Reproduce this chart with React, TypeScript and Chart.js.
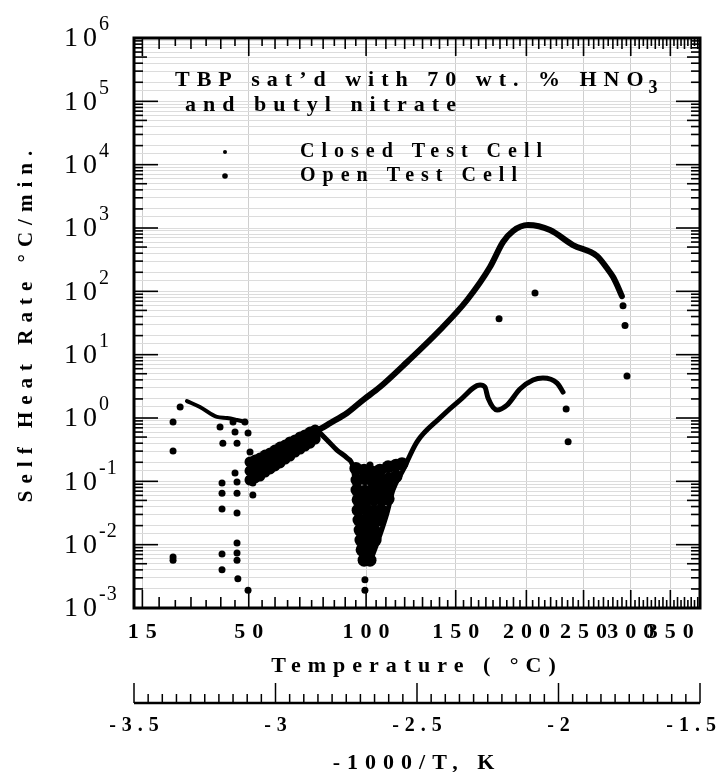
import { useEffect, useRef } from 'react';
import { Chart, registerables } from 'chart.js';

Chart.register(...registerables);

const FONT = '"Liberation Serif", "Times New Roman", Times, serif';

// ---- axis tick labels ----
const tempLabels = [15, 50, 100, 150, 200, 250, 300, 350]; // °C (top & bottom of plot)
const invTLabels = ['-3.5', '-3', '-2.5', '-2', '-1.5'];    // lower axis, -1000/T
const invTValues = [-3.5, -3, -2.5, -2, -1.5];
const yExponents = [-3, -2, -1, 0, 1, 2, 3, 4, 5, 6];

// ---- data (x = -1000/T [K], y = self heat rate °C/min) ----
// Closed test cell: main curve
const closedCurveX = [-3.090, -3.044, -2.984, -2.924, -2.878, -2.843, -2.807, -2.747, -2.691, -2.631, -2.535, -2.419, -2.323, -2.242, -2.196, -2.161, -2.108, -2.030, -1.949, -1.864, -1.829, -1.807, -1.790, -1.776];
const closedCurveY = [0.14, 0.19, 0.32, 0.48, 0.62, 0.67, 0.83, 1.2, 1.92, 3.08, 7.66, 24.5, 73, 242, 601, 896, 1114, 929, 538, 361, 233, 168, 117, 84];
// Closed test cell: dense band at the start of the curve
const closedCloudX = [
  -3.090, -3.090, -3.090, -3.072, -3.072, -3.072, -3.055, -3.055, -3.055, -3.037, -3.037, -3.037,
  -3.019, -3.019, -3.019, -3.002, -3.002, -3.002, -2.984, -2.984, -2.984, -2.966, -2.966, -2.966,
  -2.949, -2.949, -2.949, -2.931, -2.931, -2.931, -2.913, -2.913, -2.913, -2.896, -2.896, -2.896,
  -2.878, -2.878, -2.878, -2.860, -2.860, -2.860,
];
const closedCloudY = [
  0.202, 0.146, 0.105, 0.217, 0.157, 0.113, 0.233, 0.168, 0.121, 0.26, 0.188, 0.140,
  0.28, 0.209, 0.157, 0.312, 0.233, 0.175, 0.348, 0.26, 0.195, 0.374, 0.29, 0.225,
  0.418, 0.324, 0.251, 0.45, 0.36, 0.29, 0.501, 0.40, 0.324, 0.539, 0.45, 0.36,
  0.60, 0.501, 0.40, 0.645, 0.559, 0.466,
];
// Closed test cell: isolated points
const closedDotsX = [-1.772, -1.765, -1.758, -2.083, -2.210];
const closedDotsY = [59, 29, 4.6, 94, 37];

// Open test cell: early descending run
const openStartX = [-3.313, -3.267, -3.207, -3.171, -3.136, -3.108];
const openStartY = [1.85, 1.49, 1.04, 1.0, 0.93, 0.865];
// Open test cell: falling branch
const openFallX = [-2.853, -2.818, -2.783, -2.747, -2.726, -2.716, -2.708, -2.701, -2.694];
const openFallY = [0.645, 0.45, 0.312, 0.233, 0.168, 0.073, 0.0245, 0.0099, 0.0053];
// Open test cell: recovering curve
const openRiseX = [-2.666, -2.631, -2.606, -2.585, -2.549, -2.500, -2.419, -2.348, -2.277, -2.260, -2.249, -2.217, -2.182, -2.136, -2.090, -2.055, -2.005, -1.984];
const openRiseY = [0.0053, 0.0142, 0.0316, 0.073, 0.151, 0.42, 1.0, 1.92, 3.32, 3.08, 2.07, 1.34, 1.60, 2.87, 3.98, 4.28, 3.56, 2.57];
// Open test cell: dense cluster in the dip
const openCloudX = [
  -2.716, -2.687, -2.659, -2.631, -2.602, -2.574, -2.553,
  -2.712, -2.684, -2.655, -2.627, -2.599, -2.574,
  -2.712, -2.684, -2.655, -2.627, -2.599,
  -2.708, -2.680, -2.652, -2.624, -2.602,
  -2.708, -2.680, -2.652, -2.627,
  -2.705, -2.680, -2.655, -2.634,
  -2.701, -2.677, -2.652,
  -2.698, -2.673, -2.648,
  -2.694, -2.670,
  -2.687, -2.666,
];
const openCloudY = [
  0.16, 0.15, 0.14, 0.15, 0.17, 0.18, 0.19,
  0.105, 0.11, 0.10, 0.105, 0.11, 0.12,
  0.073, 0.07, 0.075, 0.073, 0.078,
  0.051, 0.05, 0.052, 0.051, 0.053,
  0.035, 0.036, 0.034, 0.035,
  0.0245, 0.024, 0.025, 0.0245,
  0.017, 0.0165, 0.017,
  0.0118, 0.012, 0.0118,
  0.0083, 0.0083,
  0.0057, 0.0057,
];
// Open test cell: scattered points
const openDotsX = [-3.362, -3.337, -3.362, -3.362, -3.362, -3.196, -3.186, -3.189, -3.189, -3.189, -3.189, -3.189, -3.150, -3.143, -3.136, -3.143, -3.136, -3.136, -3.136, -3.136, -3.136, -3.136, -3.133, -3.108, -3.097, -3.090, -3.080, -3.080, -3.097, -2.666, -2.684, -2.684, -1.973, -1.966];
const openDotsY = [0.865, 1.49, 0.30, 0.0064, 0.0057, 0.72, 0.40, 0.094, 0.065, 0.0365, 0.0071, 0.0040, 0.865, 0.60, 0.40, 0.135, 0.0975, 0.065, 0.0316, 0.0106, 0.0074, 0.0057, 0.0029, 0.865, 0.58, 0.29, 0.094, 0.061, 0.0019, 0.181, 0.0028, 0.0019, 1.39, 0.42];

const toX = (tC: number) => -1000 / (tC + 273.15);
const pts = (xs: number[], ys: number[]) => xs.map((x, i) => ({ x, y: ys[i] }));

const spacingPlugin = {
  id: 'spacing',
  beforeLayout(chart: any) { chart.ctx.letterSpacing = '7px'; },
  beforeDraw(chart: any) { chart.ctx.letterSpacing = '7px'; },
};

const decorPlugin = {
  id: 'decor',
  afterDraw(chart: any) {
    const { ctx, chartArea: a, scales } = chart;
    const xs = scales.x, ys = scales.y, x2 = scales.x2;
    const line = (x1: number, y1: number, xb: number, yb: number) => {
      ctx.beginPath(); ctx.moveTo(x1, y1); ctx.lineTo(xb, yb); ctx.stroke();
    };
    ctx.save();
    ctx.strokeStyle = '#000';
    ctx.fillStyle = '#000';
    ctx.letterSpacing = '0px';

    // inward ticks on left/right (log)
    ctx.lineWidth = 1.6;
    for (let e = -3; e <= 5; e++) {
      for (let m = 1; m <= 9; m++) {
        const py = ys.getPixelForValue(m * Math.pow(10, e));
        const len = m === 1 ? 24 : (m === 5 ? 13 : 9);
        line(a.left, py, a.left + len, py);
        line(a.right, py, a.right - len, py);
      }
    }
    // inward ticks on top/bottom (temperature every 5 °C)
    for (let t = 15; t <= 390; t += 5) {
      const px = xs.getPixelForValue(toX(t));
      if (px > a.right) break;
      const len = tempLabels.includes(t) ? 18 : (t % 10 === 0 ? 11 : 8);
      line(px, a.top, px, a.top + len);
      line(px, a.bottom, px, a.bottom - len);
    }
    // frame
    ctx.lineWidth = 3;
    ctx.strokeRect(a.left, a.top, a.right - a.left, a.bottom - a.top);

    // y tick labels 10^n
    ctx.textBaseline = 'middle';
    yExponents.forEach((e) => {
      const py = ys.getPixelForValue(Math.pow(10, e));
      ctx.font = `28px ${FONT}`;
      ctx.letterSpacing = '5px';
      ctx.textAlign = 'right';
      ctx.fillText('10', 102, py + 1);
      ctx.font = `20px ${FONT}`;
      ctx.letterSpacing = '1px';
      ctx.textAlign = 'left';
      ctx.fillText(String(e), 99, py - 13);
    });

    // lower -1000/T axis
    const ly = x2.top + 20;
    ctx.lineWidth = 2.5;
    line(x2.left, ly, x2.right, ly);
    ctx.lineWidth = 1.5;
    for (let i = 0; i <= 40; i++) {
      const px = x2.getPixelForValue(-3.5 + i * 0.05);
      const len = i % 10 === 0 ? 20 : 9;
      line(px, ly, px, ly - len);
    }
    ctx.font = `bold 20px ${FONT}`;
    ctx.letterSpacing = '6px';
    ctx.textAlign = 'left';
    invTValues.forEach((v, i) => {
      const txt = invTLabels[i];
      const w = ctx.measureText(txt).width - 6;
      let left = x2.getPixelForValue(v) - w / 2;
      left = Math.max(104, Math.min(left, 716 - w));
      ctx.fillText(txt, left, ly + 23);
    });

    // annotation
    ctx.font = `bold 22px ${FONT}`;
    ctx.letterSpacing = '7px';
    const t1 = 'TBP sat’d with 70 wt. % HNO';
    ctx.fillText(t1, 175, 80);
    const w1 = ctx.measureText(t1).width;
    ctx.font = `bold 18px ${FONT}`;
    ctx.fillText('3', 175 + w1 - 2, 88);
    ctx.font = `bold 22px ${FONT}`;
    ctx.fillText('and butyl nitrate', 185, 105);

    // legend
    ctx.beginPath(); ctx.arc(225, 152, 2, 0, Math.PI * 2); ctx.fill();
    ctx.beginPath(); ctx.arc(225, 176, 2.8, 0, Math.PI * 2); ctx.fill();
    ctx.font = `bold 20px ${FONT}`;
    ctx.fillText('Closed Test Cell', 300, 152);
    ctx.fillText('Open Test Cell', 300, 176);
    ctx.restore();
  },
};

export default function App() {
  const ref = useRef<HTMLCanvasElement | null>(null);
  useEffect(() => {
    if (!ref.current) return;
    const black = '#000';
    const lineDs = (label: string, data: any[], bw: number) => ({
      label, data, showLine: true, borderColor: black, backgroundColor: black,
      borderWidth: bw, pointRadius: 0, cubicInterpolationMode: 'monotone', borderCapStyle: 'round', borderJoinStyle: 'round',
    });
    const dotDs = (label: string, data: any[], r: number) => ({
      label, data, showLine: false, borderColor: black, backgroundColor: black,
      borderWidth: 0, pointRadius: r, pointHoverRadius: r,
    });
    const titleFont = { family: FONT, size: 22, weight: 'bold' as const };
    const chart = new Chart(ref.current, {
      type: 'scatter',
      data: {
        datasets: [
          lineDs('Closed Test Cell', pts(closedCurveX, closedCurveY), 6),
          dotDs('Closed cloud', pts(closedCloudX, closedCloudY), 5.5),
          dotDs('Closed points', pts(closedDotsX, closedDotsY), 3.5),
          lineDs('Open Test Cell', pts(openStartX, openStartY), 4),
          lineDs('Open fall', pts(openFallX, openFallY), 5),
          lineDs('Open rise', pts(openRiseX, openRiseY), 5),
          dotDs('Open cloud', pts(openCloudX, openCloudY), 6.5),
          dotDs('Open points', pts(openDotsX, openDotsY), 3.5),
        ] as any,
      },
      options: {
        animation: false,
        responsive: false,
        maintainAspectRatio: false,
        devicePixelRatio: 1,
        events: [],
        layout: { padding: { left: 0, right: 17, top: 38, bottom: 0 } },
        plugins: { legend: { display: false }, tooltip: { enabled: false }, title: { display: false } },
        scales: {
          x: {
            type: 'linear', position: 'bottom', min: -3.5, max: -1.5, weight: 0,
            afterBuildTicks: (s: any) => { s.ticks = tempLabels.map((t) => ({ value: toX(t) })); },
            afterFit: (s: any) => { s.height = 75; },
            ticks: {
              autoSkip: false, maxRotation: 0, minRotation: 0, padding: 11, labelOffset: 3.5, color: black,
              font: titleFont,
              callback: (_v: any, i: number) => String(tempLabels[i]),
            },
            grid: { color: '#cfcfcf', drawTicks: false, lineWidth: 1 },
            border: { display: false },
            title: { display: true, text: 'Temperature ( °C)', color: black, font: titleFont, padding: { top: 0, bottom: 3 } },
          },
          x2: {
            type: 'linear', position: 'bottom', min: -3.5, max: -1.5, weight: 1,
            afterFit: (s: any) => { s.height = 89; },
            ticks: { display: false },
            grid: { display: false },
            border: { display: false },
            title: { display: true, text: '-1000/T, K', color: black, font: { ...titleFont, lineHeight: 0.8 }, padding: { top: 0, bottom: 0 } },
          },
          y: {
            type: 'logarithmic', position: 'left', min: 1e-3, max: 1e6,
            afterFit: (s: any) => { s.width = 134; },
            ticks: { display: false },
            grid: { color: '#dcdcdc', drawTicks: false, lineWidth: 1 },
            border: { display: false },
            title: { display: true, text: 'Self Heat Rate °C/min.', color: black, font: { family: FONT, size: 21, weight: 'bold' }, padding: { top: 14, bottom: 0 } },
          },
        } as any,
      },
      plugins: [spacingPlugin, decorPlugin],
    });
    return () => chart.destroy();
  }, []);
  return (
    <div style={{ position: 'fixed', left: 0, top: 0, width: 717, height: 772, background: '#fff' }}>
      <canvas ref={ref} width={717} height={772} style={{ display: 'block', width: 717, height: 772 }} />
    </div>
  );
}
